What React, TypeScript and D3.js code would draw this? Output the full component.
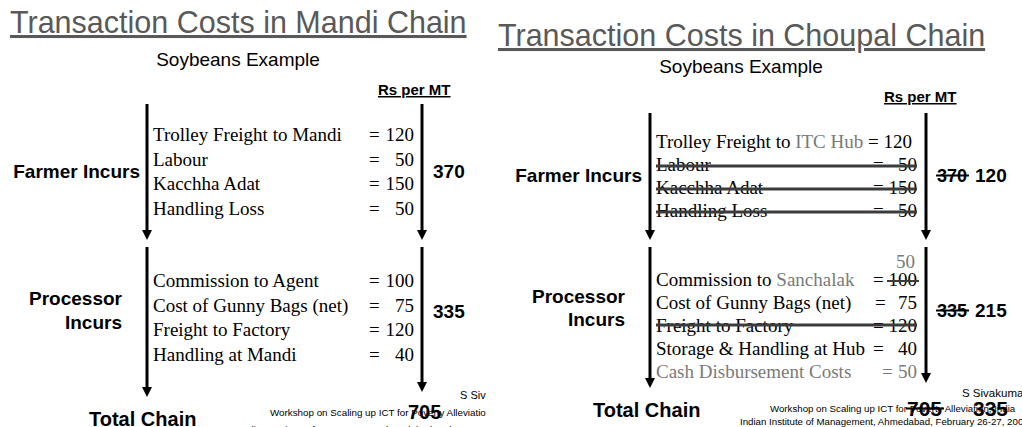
import React from 'react'
import * as d3 from 'd3'

// ---- data ----
const mandiFarmerItems = ['Trolley Freight to Mandi', 'Labour', 'Kacchha Adat', 'Handling Loss']
const mandiFarmerCosts = [120, 50, 150, 50]
const mandiProcessorItems = ['Commission to Agent', 'Cost of Gunny Bags (net)', 'Freight to Factory', 'Handling at Mandi']
const mandiProcessorCosts = [100, 75, 120, 40]
const mandiTotals = [370, 335, 705]

const choupalFarmerItems = ['Trolley Freight to ', 'Labour', 'Kacchha Adat', 'Handling Loss']
const choupalFarmerCosts = [120, 50, 150, 50]
const choupalFarmerDropped = [false, true, true, true]
const choupalProcessorItems = ['Commission to ', 'Cost of Gunny Bags (net)', 'Freight to Factory', 'Storage & Handling at Hub', 'Cash Disbursement Costs']
const choupalProcessorCosts = [100, 75, 120, 40, 50]
const choupalProcessorDropped = [false, false, true, false, false]
const choupalCommissionRevised = 50
const choupalOldTotals = [370, 335, 705]
const choupalNewTotals = [120, 215, 335]

const SANS = '"Liberation Sans", Arial, sans-serif'
const SERIF = '"Liberation Serif", "Times New Roman", serif'
const GREY = '#7a7a7a'
const STRIKE = '#3c3c3c'

const boldW = (s: string, fs: number) => s.length * 0.556 * fs

function Arrow({ x, y1, y2 }: { x: number, y1: number, y2: number }) {
  const head = d3.path()
  head.moveTo(x - 5, y2 - 10)
  head.lineTo(x + 5, y2 - 10)
  head.lineTo(x, y2)
  head.closePath()
  return <g>
    <line x1={x} x2={x} y1={y1} y2={y2 - 9} stroke="#000" strokeWidth={3} />
    <path d={head.toString()} fill="#000" />
  </g>
}

function StruckNum({ x, y, value, fs }: { x: number, y: number, value: number, fs: number }) {
  const w = boldW(String(value), fs)
  return <g>
    <text x={x} y={y} fontFamily={SANS} fontWeight="bold" fontSize={fs}>{value}</text>
    <line x1={x - 1} x2={x + w + 2} y1={y - fs * 0.36} y2={y - fs * 0.36} stroke="#000" strokeWidth={2} />
  </g>
}

function MandiPanel() {
  const yF = d3.scalePoint<number>().domain(d3.range(mandiFarmerItems.length)).range([141, 214.5])
  const yP = d3.scalePoint<number>().domain(d3.range(mandiProcessorItems.length)).range([287, 360.5])
  const row = (label: string, v: number, y: number, key: number) => <g key={key} fontFamily={SERIF} fontSize={19}>
    <text x={153} y={y}>{label}</text>
    <text x={369} y={y}>=</text>
    <text x={414} y={y} textAnchor="end">{v}</text>
  </g>
  return <g clipPath="url(#leftClip)">
    <text x={10} y={33} fontFamily={SANS} fontSize={30.5} fill="#595959" textDecoration="underline">Transaction Costs in Mandi Chain</text>
    <text x={238} y={66} fontFamily={SANS} fontSize={19} textAnchor="middle">Soybeans Example</text>
    <text x={378} y={95} fontFamily={SANS} fontSize={15} fontWeight="bold" textDecoration="underline">Rs per MT</text>

    <Arrow x={147} y1={104} y2={240} />
    <Arrow x={147} y1={247} y2={397} />
    <Arrow x={422} y1={104} y2={240} />
    <Arrow x={422} y1={247} y2={392} />

    <text x={140} y={178} fontFamily={SANS} fontSize={19} fontWeight="bold" textAnchor="end">Farmer Incurs</text>
    <text x={122} y={305} fontFamily={SANS} fontSize={19} fontWeight="bold" textAnchor="end">Processor</text>
    <text x={122} y={329} fontFamily={SANS} fontSize={19} fontWeight="bold" textAnchor="end">Incurs</text>
    <text x={89} y={426} fontFamily={SANS} fontSize={20} fontWeight="bold">Total Chain</text>

    {mandiFarmerItems.map((d, i) => row(d, mandiFarmerCosts[i], yF(i)!, i))}
    {mandiProcessorItems.map((d, i) => row(d, mandiProcessorCosts[i], yP(i)!, i + 10))}

    <text x={433} y={178} fontFamily={SANS} fontSize={19} fontWeight="bold">{mandiTotals[0]}</text>
    <text x={433} y={318} fontFamily={SANS} fontSize={19} fontWeight="bold">{mandiTotals[1]}</text>

    <g fontFamily={SANS} fontSize={9.8}>
      <text x={460} y={399} fontSize={11}>S Sivakumar</text>
      <text x={270} y={416}>Workshop on Scaling up ICT for Poverty Alleviation, India</text>
      <text x={240} y={433}>Indian Institute of Management, Ahmedabad, February 26-27, 2004</text>
    </g>
    <text x={408} y={419} fontFamily={SANS} fontSize={20} fontWeight="bold">{mandiTotals[2]}</text>
  </g>
}

function ChoupalPanel() {
  const yF = d3.scalePoint<number>().domain(d3.range(choupalFarmerItems.length)).range([148, 217])
  const yP = d3.scalePoint<number>().domain(d3.range(choupalProcessorItems.length)).range([286, 378])
  const eqX = [873, 875, 873, 873, 882]
  const valEnd = 917
  return <g>
    <text x={498} y={46} fontFamily={SANS} fontSize={30.5} fill="#595959" textDecoration="underline">Transaction Costs in Choupal Chain</text>
    <text x={741} y={73} fontFamily={SANS} fontSize={19} textAnchor="middle">Soybeans Example</text>
    <text x={884} y={102} fontFamily={SANS} fontSize={15} fontWeight="bold" textDecoration="underline">Rs per MT</text>

    <Arrow x={650} y1={113} y2={240} />
    <Arrow x={650} y1={247} y2={388} />
    <Arrow x={926} y1={113} y2={240} />
    <Arrow x={926} y1={247} y2={383} />

    <text x={642} y={182} fontFamily={SANS} fontSize={19} fontWeight="bold" textAnchor="end">Farmer Incurs</text>
    <text x={625} y={303} fontFamily={SANS} fontSize={19} fontWeight="bold" textAnchor="end">Processor</text>
    <text x={625} y={326} fontFamily={SANS} fontSize={19} fontWeight="bold" textAnchor="end">Incurs</text>
    <text x={593} y={417} fontFamily={SANS} fontSize={20} fontWeight="bold">Total Chain</text>

    <g fontFamily={SERIF} fontSize={19}>
      {choupalFarmerItems.map((d, i) => {
        const y = yF(i)!
        if (i === 0) {
          return <text key={i} x={656} y={y}>{d}<tspan fill={GREY}>ITC Hub</tspan> = {choupalFarmerCosts[i]}</text>
        }
        return <g key={i}>
          <text x={656} y={y}>{d}</text>
          <text x={eqX[0]} y={y}>=</text>
          <text x={valEnd} y={y} textAnchor="end">{choupalFarmerCosts[i]}</text>
          {choupalFarmerDropped[i] && <line x1={656} x2={valEnd} y1={y - 5} y2={y - 5} stroke={STRIKE} strokeWidth={3} />}
        </g>
      })}
      <text x={valEnd - 2} y={268} textAnchor="end" fill={GREY}>{choupalCommissionRevised}</text>
      {choupalProcessorItems.map((d, i) => {
        const y = yP(i)!
        const grey = i === 4
        return <g key={i} fill={grey ? GREY : '#000'}>
          <text x={656} y={y}>{d}{i === 0 && <tspan fill={GREY}>Sanchalak</tspan>}</text>
          <text x={eqX[i]} y={y}>=</text>
          <text x={valEnd} y={y} textAnchor="end">{choupalProcessorCosts[i]}</text>
          {i === 0 && <line x1={887} x2={valEnd + 2} y1={y - 5} y2={y - 5} stroke={STRIKE} strokeWidth={2} />}
          {choupalProcessorDropped[i] && <line x1={656} x2={valEnd} y1={y - 7} y2={y - 7} stroke={STRIKE} strokeWidth={3} />}
        </g>
      })}
    </g>

    <StruckNum x={937} y={182} value={choupalOldTotals[0]} fs={18} />
    <text x={975} y={182} fontFamily={SANS} fontSize={19} fontWeight="bold">{choupalNewTotals[0]}</text>
    <StruckNum x={937} y={317} value={choupalOldTotals[1]} fs={18} />
    <text x={975} y={317} fontFamily={SANS} fontSize={19} fontWeight="bold">{choupalNewTotals[1]}</text>

    <g fontFamily={SANS} fontSize={9.7}>
      <text x={962} y={397} fontSize={11.5}>S Sivakumar</text>
      <text x={770} y={412}>Workshop on Scaling up ICT for Poverty Alleviation, India</text>
      <text x={740} y={425}>Indian Institute of Management, Ahmedabad, February 26-27, 2004</text>
    </g>
    <StruckNum x={907} y={416} value={choupalOldTotals[2]} fs={21} />
    <text x={973} y={416} fontFamily={SANS} fontSize={21} fontWeight="bold">{choupalNewTotals[2]}</text>
  </g>
}

export default function App() {
  return <svg width={1022} height={427} style={{ position: 'absolute', left: 0, top: 0, background: '#fff' }}>
    <defs>
      <clipPath id="leftClip"><rect x={0} y={0} width={486} height={427} /></clipPath>
    </defs>
    <rect width={1022} height={427} fill="#fff" />
    <MandiPanel />
    <ChoupalPanel />
  </svg>
}
